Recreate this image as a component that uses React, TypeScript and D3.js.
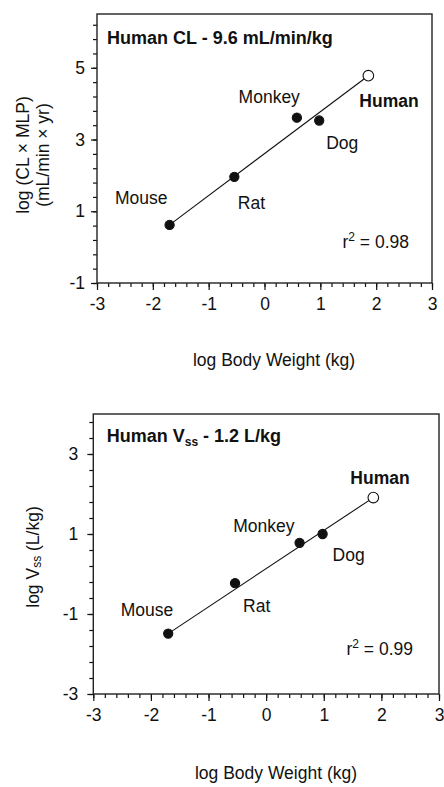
import React, { useEffect, useRef } from "react";
import * as d3 from "d3";

// log10 body weight (kg) of each species
const species = ["Mouse", "Rat", "Monkey", "Dog", "Human"];
const logBodyWeight = [-1.7, -0.54, 0.58, 0.98, 1.86];
// top panel: log (CL x MLP)
const logClMlp = [0.62, 1.96, 3.61, 3.53, 4.78];
// bottom panel: log Vss
const logVss = [-1.49, -0.23, 0.78, 1.0, 1.91];

const xTicks = [-3, -2, -1, 0, 1, 2, 3];
const clTicks = [-1, 1, 3, 5];
const vssTicks = [-3, -1, 1, 3];

const font = "'Liberation Sans', Arial, sans-serif";
// plain hyphen for negatives, like the original figure
const fmt = (d: d3.NumberValue) => String(Math.round(+d));

type LabelPos = { dx: number; dy: number; anchor: string };

type PanelCfg = {
  left: number;
  right: number;
  top: number;
  bottom: number;
  yDomain: [number, number];
  yValues: number[];
  yTicks: number[];
  labels: LabelPos[];
  title: (g: d3.Selection<SVGTextElement, unknown, null, undefined>) => void;
  yLabel: string[];
  yLabelX: number[];
  yLabelY: number;
  xLabelX: number;
  xLabelY: number;
  r2: string;
  r2dx: number;
  r2dy: number;
  tickPad: number;
};

function drawPanel(svg: d3.Selection<SVGSVGElement, unknown, null, undefined>, c: PanelCfg) {
  const x = d3.scaleLinear().domain([-3, 3]).range([c.left, c.right]);
  const y = d3.scaleLinear().domain(c.yDomain).range([c.bottom, c.top]);
  const g = svg.append("g").attr("font-family", font).attr("fill", "#111");

  // minor ticks
  g.append("g")
    .attr("transform", `translate(0,${c.bottom})`)
    .call(d3.axisBottom(x).tickValues(d3.range(-3, 3.001, 0.2)).tickSize(4).tickSizeOuter(0).tickFormat(() => ""))
    .call((a) => a.select(".domain").remove());
  g.append("g")
    .attr("transform", `translate(${c.left},0)`)
    .call(
      d3.axisLeft(y)
        .tickValues(d3.range(c.yDomain[0], c.yDomain[1] + 0.001, 0.4))
        .tickSize(4)
        .tickSizeOuter(0)
        .tickFormat(() => "")
    )
    .call((a) => a.select(".domain").remove());

  // major ticks
  const xa = g.append("g")
    .attr("transform", `translate(0,${c.bottom})`)
    .call(d3.axisBottom(x).tickValues(xTicks).tickSize(7).tickSizeOuter(0).tickPadding(8).tickFormat(fmt));
  xa.select(".domain").remove();
  xa.selectAll("text").attr("font-size", 17.5).attr("font-family", font).attr("fill", "#111");
  const ya = g.append("g")
    .attr("transform", `translate(${c.left},0)`)
    .call(d3.axisLeft(y).tickValues(c.yTicks).tickSize(6).tickSizeOuter(0).tickPadding(c.tickPad).tickFormat(fmt));
  ya.select(".domain").remove();
  ya.selectAll("text").attr("font-size", 17.5).attr("font-family", font).attr("fill", "#111");
  g.selectAll(".tick line").attr("stroke", "#111").attr("stroke-width", 1.2);

  // frame
  g.append("rect")
    .attr("x", c.left)
    .attr("y", c.top)
    .attr("width", c.right - c.left)
    .attr("height", c.bottom - c.top)
    .attr("fill", "none")
    .attr("stroke", "#222")
    .attr("stroke-width", 1.4);

  // fit line from first to last species
  const n = species.length - 1;
  g.append("line")
    .attr("x1", x(logBodyWeight[0]))
    .attr("y1", y(c.yValues[0]))
    .attr("x2", x(logBodyWeight[n]))
    .attr("y2", y(c.yValues[n]))
    .attr("stroke", "#111")
    .attr("stroke-width", 1.1);

  const pts = species.map((s, i) => ({ s, x: logBodyWeight[i], y: c.yValues[i], i }));
  g.selectAll("circle.pt")
    .data(pts)
    .join("circle")
    .attr("cx", (d) => x(d.x))
    .attr("cy", (d) => y(d.y))
    .attr("r", (d) => (d.s === "Human" ? 5.3 : 4.6))
    .attr("fill", (d) => (d.s === "Human" ? "#fff" : "#111"))
    .attr("stroke", "#111")
    .attr("stroke-width", 1.1);

  g.selectAll("text.lbl")
    .data(pts)
    .join("text")
    .attr("x", (d) => x(d.x) + c.labels[d.i].dx)
    .attr("y", (d) => y(d.y) + c.labels[d.i].dy)
    .attr("text-anchor", (d) => c.labels[d.i].anchor)
    .attr("dominant-baseline", "central")
    .attr("font-size", 17.5)
    .attr("font-weight", (d) => (d.s === "Human" ? "bold" : "normal"))
    .text((d) => d.s);

  // title
  const t = g.append("text")
    .attr("x", c.left + 10)
    .attr("y", c.top + 30)
    .attr("font-size", 18)
    .attr("font-weight", "bold");
  c.title(t);

  // r squared
  const r = g.append("text")
    .attr("x", c.right + c.r2dx)
    .attr("y", c.bottom + c.r2dy)
    .attr("text-anchor", "end")
    .attr("font-size", 17.5);
  r.append("tspan").text("r");
  r.append("tspan").attr("font-size", 12).attr("dy", -7).text("2");
  r.append("tspan").attr("dy", 7).text(" = " + c.r2);

  // axis labels
  g.append("text")
    .attr("x", c.xLabelX)
    .attr("y", c.xLabelY)
    .attr("text-anchor", "middle")
    .attr("dominant-baseline", "central")
    .attr("font-size", 17.5)
    .text("log Body Weight (kg)");

  c.yLabel.forEach((line, k) => {
    const yl = g.append("text")
      .attr("transform", `translate(${c.yLabelX[k]},${c.yLabelY}) rotate(-90)`)
      .attr("text-anchor", "middle")
      .attr("dominant-baseline", "central")
      .attr("font-size", 17.5);
    if (line === "vss") {
      yl.append("tspan").text("log V");
      yl.append("tspan").attr("font-size", 12).attr("dy", 4).text("ss");
      yl.append("tspan").attr("dy", -4).text(" (L/kg)");
    } else {
      yl.text(line);
    }
  });
}

export default function App() {
  const ref = useRef<SVGSVGElement | null>(null);
  const width = 444;
  const height = 787;

  useEffect(() => {
    const svg = d3.select(ref.current as SVGSVGElement);
    svg.selectAll("*").remove();
    svg.append("rect").attr("width", width).attr("height", height).attr("fill", "#fff");

    drawPanel(svg, {
      left: 97,
      right: 432,
      top: 14,
      bottom: 283,
      yDomain: [-1, 6.5],
      yValues: logClMlp,
      yTicks: clTicks,
      labels: [
        { dx: -2, dy: -27, anchor: "end" },
        { dx: 3.5, dy: 26, anchor: "start" },
        { dx: 3, dy: -21, anchor: "end" },
        { dx: 7, dy: 22, anchor: "start" },
        { dx: -9, dy: 25, anchor: "start" },
      ],
      title: (t) => t.attr("y", 44).text("Human CL - 9.6 mL/min/kg"),
      yLabel: ["log (CL × MLP)", "(mL/min × yr)"],
      yLabelX: [23, 43],
      yLabelY: 155,
      xLabelX: 274,
      xLabelY: 360,
      r2: "0.98",
      r2dx: -23,
      r2dy: -35,
      tickPad: 6,
    });

    drawPanel(svg, {
      left: 93.3,
      right: 439,
      top: 414,
      bottom: 694,
      yDomain: [-3, 4],
      yValues: logVss,
      yTicks: vssTicks,
      labels: [
        { dx: 5, dy: -24, anchor: "end" },
        { dx: 8, dy: 23, anchor: "start" },
        { dx: -5, dy: -17, anchor: "end" },
        { dx: 10, dy: 21, anchor: "start" },
        { dx: -23, dy: -20, anchor: "start" },
      ],
      title: (t) => {
        t.attr("x", 106.7).attr("y", 442);
        t.append("tspan").text("Human V");
        t.append("tspan").attr("font-size", 12).attr("dy", 4).text("ss");
        t.append("tspan").attr("dy", -4).text(" - 1.2 L/kg");
      },
      yLabel: ["vss"],
      yLabelX: [33],
      yLabelY: 557,
      xLabelX: 276,
      xLabelY: 773,
      r2: "0.99",
      r2dx: -26,
      r2dy: -39,
      tickPad: 9,
    });
  }, []);

  return (
    <svg
      ref={ref}
      width={width}
      height={height}
      style={{ position: "absolute", left: 0, top: 0 }}
    ></svg>
  );
}
